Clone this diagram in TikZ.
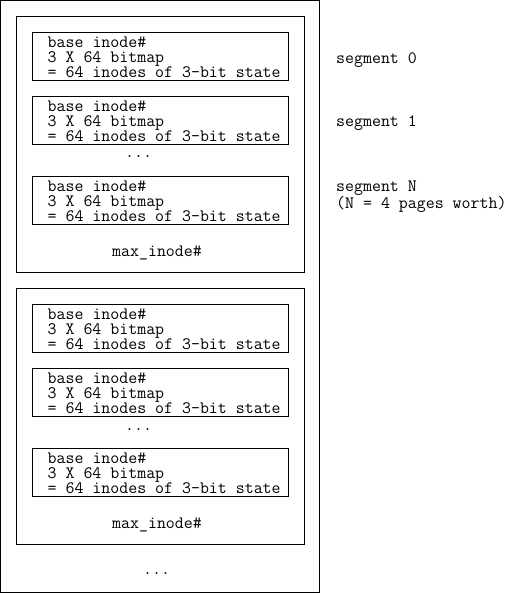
\documentclass[tikz,border=0pt]{standalone}
\usepackage{fontspec}
\usetikzlibrary{positioning}
\tikzset{
	diskbox/.style={draw, line width=1pt, minimum width=319pt, minimum height=592pt, inner sep=0pt},
	groupbox/.style={draw, line width=1pt, minimum width=288pt, minimum height=256pt, inner sep=0pt},
	segbox/.style={draw, line width=1pt, minimum width=256pt, minimum height=48pt, inner sep=0pt},
	mono/.style={font=\fontsize{17.4}{15}\selectfont\ttfamily, inner sep=0pt, align=left}
}

\begin{document}
\begin{tikzpicture}[x=1pt, y=-1pt]
	\useasboundingbox (0,0) rectangle (509,593);
	% outer area and the two segment groups
	\node[diskbox] (disk) at (160,296.5) {};
	\node[groupbox] (grpA) at (160.5,144.5) {};
	\node[groupbox] (grpB) at (160.5,416.5) {};
	% segments
	\foreach \n/\y in {a0/56.5, a1/120.5, aN/200.5, b0/328.5, b1/392.5, bN/472.5}
	{
		\node[segbox] (\n) at (160.5,\y) {};
		\node[mono, right=15.5pt of \n.west, yshift=-1.2pt] (\n-txt) {base inode\#\\3 X 64 bitmap\\= 64 inodes of 3-bit state};
	}
	\node[mono, anchor=base west] (dotsA) at (125,158) {...};
	\node[mono, anchor=base west] (dotsB) at (125,430) {...};
	\node[mono, anchor=base west] (maxA) at (112,256) {max\_inode\#};
	\node[mono, anchor=base west] (maxB) at (112,528) {max\_inode\#};
	\node[mono, anchor=base west] (dotsC) at (143,574) {...};
	% labels on the right
	\node[mono, anchor=base west] (lbl0) at (336,64) {segment 0};
	\node[mono, anchor=base west] (lbl1) at (336,127) {segment 1};
	\node[mono, anchor=north west] (lblN) at (336,180.5) {segment N\\(N = 4 pages worth)};
\end{tikzpicture}
\end{document}
